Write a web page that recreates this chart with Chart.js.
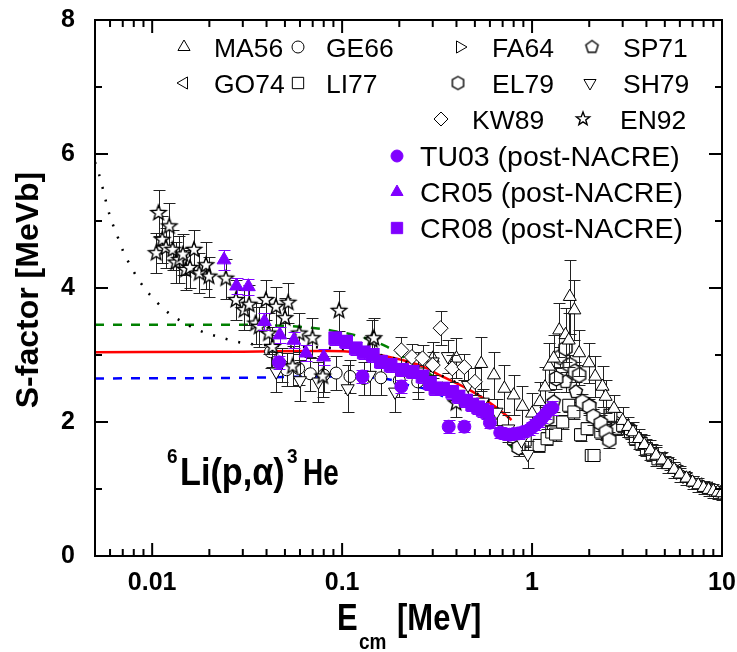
<!DOCTYPE html>
<html>
<head>
<meta charset="utf-8">
<script src="https://cdn.jsdelivr.net/npm/chart.js@4.4.0/dist/chart.umd.min.js"></script>
<style>
  html, body { margin: 0; padding: 0; background: #fff; }
</style>
</head>
<body>
<canvas id="c" width="737" height="652"></canvas>
<script>
// axis ticks
const xTickValues = [0.01, 0.1, 1, 10];
const xTickLabels = ['0.01', '0.1', '1', '10'];
const yTickValues = [0, 2, 4, 6, 8];

// data: [E (MeV), S (MeVb), error]
const TU03 = [[0.0465, 2.89, 0.1], [0.128, 2.68, 0.1], [0.205, 2.53, 0.1], [0.364, 1.93, 0.1], [0.44, 1.93, 0.08],
  [0.60, 1.99, 0.08], [0.68, 1.84, 0.08], [0.72, 1.82, 0.08], [0.76, 1.81, 0.08], [0.80, 1.82, 0.08],
  [0.85, 1.83, 0.08], [0.90, 1.85, 0.08], [0.96, 1.88, 0.08], [1.0, 1.92, 0.08], [1.04, 1.96, 0.08],
  [1.09, 2.01, 0.08], [1.13, 2.06, 0.08], [1.18, 2.12, 0.08], [1.23, 2.18, 0.08], [1.28, 2.21, 0.1]];
const CR05 = [[0.0239, 4.42, 0.15], [0.0278, 4.03, 0.12], [0.0321, 4.02, 0.12], [0.039, 3.50, 0.12],
  [0.047, 3.30, 0.12], [0.0557, 3.22, 0.12], [0.0645, 3.03, 0.12], [0.080, 2.97, 0.12]];
const CR08 = [[0.092, 3.25, 0.1], [0.105, 3.2, 0.1], [0.118, 3.1, 0.1], [0.13, 3.04, 0.1], [0.145, 3.0, 0.1],
  [0.16, 2.9, 0.1], [0.18, 2.85, 0.1], [0.207, 2.78, 0.1], [0.235, 2.75, 0.1], [0.265, 2.68, 0.1],
  [0.29, 2.58, 0.1], [0.31, 2.5, 0.1], [0.34, 2.5, 0.1], [0.38, 2.45, 0.1], [0.41, 2.38, 0.1],
  [0.45, 2.32, 0.1], [0.484, 2.26, 0.1], [0.52, 2.22, 0.1], [0.55, 2.18, 0.1], [0.58, 2.15, 0.1]];
const EN92 = [[0.0108, 5.12, 0.35], [0.0105, 4.52, 0.3], [0.0113, 4.72, 0.35], [0.0118, 4.6, 0.3], [0.0123, 4.92, 0.35],
  [0.0128, 4.57, 0.3], [0.0133, 4.38, 0.3], [0.0139, 4.42, 0.35], [0.0145, 4.5, 0.3], [0.015, 4.27, 0.3],
  [0.0158, 4.3, 0.3], [0.0166, 4.57, 0.3], [0.0177, 4.22, 0.3], [0.0192, 4.34, 0.35], [0.0199, 4.17, 0.3],
  [0.0244, 4.14, 0.3], [0.0276, 3.82, 0.3], [0.0305, 3.67, 0.3], [0.0324, 3.75, 0.3], [0.035, 3.47, 0.3],
  [0.0366, 3.42, 0.3], [0.0397, 3.82, 0.3], [0.041, 3.32, 0.3], [0.043, 3.12, 0.3], [0.0448, 3.72, 0.3],
  [0.05, 3.55, 0.3], [0.052, 3.78, 0.3], [0.0548, 2.83, 0.3], [0.0595, 3.32, 0.3], [0.0698, 3.25, 0.3],
  [0.079, 2.68, 0.3], [0.0963, 3.66, 0.3], [0.144, 3.22, 0.3], [0.147, 3.25, 0.3], [0.398, 2.28, 0.2]];
const KW89 = [[0.205, 3.07, 0.2], [0.233, 2.97, 0.2], [0.265, 2.95, 0.2], [0.30, 2.85, 0.2], [0.33, 3.40, 0.25],
  [0.38, 2.80, 0.2], [0.44, 2.82, 0.2], [0.50, 2.6, 0.2]];
const SH79 = [[0.045, 2.75, 0.3], [0.06, 2.62, 0.3], [0.075, 2.6, 0.3], [0.107, 2.5, 0.35], [0.14, 2.7, 0.3],
  [0.19, 2.45, 0.3], [0.25, 2.75, 0.3], [0.3, 2.9, 0.3], [0.36, 2.98, 0.25], [0.46, 2.55, 0.25],
  [0.55, 2.3, 0.2], [0.65, 2.15, 0.2], [0.75, 1.9, 0.2], [0.88, 1.72, 0.2], [0.95, 1.52, 0.2]];
const GE66 = [[0.042, 3.05, 0.25], [0.048, 2.85, 0.25], [0.051, 2.78, 0.25], [0.059, 2.80, 0.25], [0.068, 2.72, 0.25],
  [0.08, 2.70, 0.25], [0.093, 2.73, 0.25], [0.11, 2.68, 0.25], [0.13, 2.65, 0.25], [0.16, 2.66, 0.25],
  [0.2, 2.62, 0.25], [0.25, 2.6, 0.25]];
const MA56 = [[0.3, 2.95, 0.25], [0.4, 2.95, 0.3], [0.54, 2.87, 0.4], [0.63, 2.70, 0.35], [0.715, 2.50, 0.35],
  [0.80, 2.40, 0.3], [0.89, 2.23, 0.3], [1.0, 2.13, 0.3], [1.1, 2.3, 0.3], [1.17, 2.52, 0.3],
  [1.23, 2.83, 0.35], [1.3, 2.95, 0.35], [1.39, 3.37, 0.4], [1.5, 3.3, 0.4], [1.56, 3.22, 0.4],
  [1.58, 3.87, 0.55], [1.67, 3.67, 0.45], [1.77, 3.03, 0.35], [1.99, 2.88, 0.3], [2.15, 2.68, 0.3],
  [2.35, 2.53, 0.3], [2.44, 2.38, 0.25], [2.7, 2.2, 0.2], [3.0, 2.02, 0.2], [3.2, 1.93, 0.15], [3.4, 1.85, 0.15],
  [3.65, 1.75, 0.15], [3.9, 1.66, 0.15], [4.2, 1.58, 0.15], [4.5, 1.5, 0.15], [4.85, 1.43, 0.12], [5.2, 1.36, 0.12],
  [5.6, 1.29, 0.12], [6.0, 1.22, 0.12], [6.5, 1.16, 0.1], [7.0, 1.1, 0.1], [7.5, 1.06, 0.1],
  [8.0, 1.02, 0.1], [8.5, 0.99, 0.1], [9.0, 0.97, 0.1], [9.5, 0.95, 0.1], [10, 0.94, 0.1]];
const EL79 = [[0.85, 1.62, 0.12], [1.2, 2.05, 0.15], [1.34, 2.65, 0.15], [1.4, 2.97, 0.15], [1.5, 3.1, 0.15],
  [1.58, 2.85, 0.15], [1.68, 2.75, 0.15], [1.77, 2.70, 0.15], [1.84, 2.30, 0.12], [2.0, 2.23, 0.12],
  [2.1, 2.08, 0.12], [2.3, 1.98, 0.12], [2.45, 1.85, 0.12], [2.55, 1.73, 0.12]];
const LI77 = [[0.8, 1.75, 0.1], [0.92, 1.73, 0.1], [1.09, 1.65, 0.1], [1.2, 1.75, 0.1], [1.27, 1.85, 0.1],
  [1.33, 1.82, 0.1], [1.45, 2.0, 0.1], [1.56, 2.25, 0.1], [1.66, 2.15, 0.1], [1.8, 1.81, 0.1],
  [1.95, 1.9, 0.1], [2.05, 1.5, 0.05], [2.12, 1.5, 0.05], [2.3, 1.85, 0.1], [2.6, 2.1, 0.1],
  [3.0, 1.95, 0.1], [3.3, 1.85, 0.1], [3.5, 1.75, 0.1], [3.75, 1.68, 0.1], [4.0, 1.6, 0.1], [4.3, 1.52, 0.1], [4.6, 1.45, 0.08]];
const SP71 = [[1.3, 2.3, 0.15], [1.5, 2.6, 0.15], [1.7, 2.45, 0.15], [2.0, 2.25, 0.12], [2.4, 1.95, 0.12], [2.8, 1.9, 0.1]];
const FA64 = [[2.5, 2.1, 0.12], [2.75, 2.03, 0.12], [3.0, 1.95, 0.1], [3.25, 1.87, 0.1], [3.5, 1.8, 0.1], [3.75, 1.72, 0.1],
  [4.0, 1.65, 0.1], [4.5, 1.52, 0.1], [5.0, 1.42, 0.08], [5.5, 1.33, 0.08], [6.0, 1.24, 0.08], [6.5, 1.18, 0.08],
  [7.0, 1.12, 0.07], [8.0, 1.04, 0.07], [9.0, 0.98, 0.06], [10.0, 0.93, 0.06]];
const GO74 = [[3.2, 1.88, 0.1], [3.8, 1.7, 0.1], [4.3, 1.57, 0.1], [4.8, 1.46, 0.08], [5.3, 1.37, 0.08],
  [5.8, 1.28, 0.08], [6.5, 1.17, 0.07], [7.5, 1.07, 0.07], [8.5, 1.01, 0.06], [9.5, 0.96, 0.06]];

// curves: [E, S]
const screened = [[0.005, 5.88], [0.00526, 5.69], [0.00548, 5.50], [0.0057, 5.30], [0.00594, 5.11], [0.00626, 4.92],
  [0.00665, 4.73], [0.00706, 4.54], [0.00766, 4.34], [0.00837, 4.15], [0.00927, 3.97], [0.01066, 3.78],
  [0.01229, 3.62], [0.01432, 3.50], [0.01664, 3.40], [0.01955, 3.32], [0.02253, 3.27], [0.02595, 3.22],
  [0.0301, 3.18], [0.05, 3.13], [0.1, 3.09], [0.2, 2.93], [0.44, 2.53], [0.6, 2.3], [0.8, 2.0]];
const bare = [[0.005, 3.04], [0.03, 3.05], [0.085, 3.06], [0.12, 3.04], [0.177, 2.97], [0.265, 2.83],
  [0.336, 2.68], [0.44, 2.52], [0.57, 2.33], [0.76, 2.06], [0.78, 2.03]];
const upper = [[0.005, 3.45], [0.03, 3.45], [0.06, 3.42], [0.09, 3.36], [0.133, 3.25], [0.173, 3.12],
  [0.21, 2.97], [0.32, 2.63], [0.45, 2.3], [0.6, 1.97], [0.79, 1.61]];
const lower = [[0.005, 2.65], [0.03, 2.66], [0.08, 2.68], [0.13, 2.67], [0.18, 2.63], [0.224, 2.55],
  [0.285, 2.48], [0.37, 2.33], [0.5, 2.15]];

const PURPLE = '#8000ff';
const FONT = "'Liberation Sans', Arial, sans-serif";

function shape(kind, r) {
  const s = Math.ceil(2 * r + 4);
  const c = document.createElement('canvas');
  c.width = s; c.height = s;
  const g = c.getContext('2d');
  const cx = s / 2, cy = s / 2;
  g.beginPath();
  const n = kind === 'pentagon' ? 5 : kind === 'hexagon' ? 6 : 10;
  for (let i = 0; i < n; i++) {
    const a = -Math.PI / 2 + i * 2 * Math.PI / n;
    const rr = (kind === 'star' && i % 2) ? r * 0.42 : r;
    const px = cx + rr * Math.cos(a), py = cy + rr * Math.sin(a);
    if (i === 0) g.moveTo(px, py); else g.lineTo(px, py);
  }
  g.closePath();
  g.fillStyle = '#fff';
  g.fill();
  g.lineWidth = 1.4;
  g.strokeStyle = '#000';
  g.stroke();
  return c;
}

const pentagon = shape('pentagon', 7);
const hexagon = shape('hexagon', 7.5);
const star = shape('star', 8);
const pentagonL = shape('pentagon', 6.5);
const hexagonL = shape('hexagon', 6.5);
const starL = shape('star', 7);

function series(label, arr, style, radius, rot, purple) {
  return {
    label,
    data: arr.map(p => ({ x: p[0], y: p[1] })),
    err: arr.map(p => p[2]),
    errColor: purple ? PURPLE : '#222',
    pointStyle: style,
    pointRadius: radius,
    pointRotation: rot || 0,
    pointBackgroundColor: purple ? PURPLE : '#fff',
    pointBorderColor: purple ? PURPLE : '#000',
    pointBorderWidth: 1
  };
}

function curve(label, arr, color, dash, width) {
  return {
    label,
    data: arr.map(p => ({ x: p[0], y: p[1] })),
    showLine: true,
    borderColor: color,
    borderWidth: width,
    borderDash: dash,
    pointRadius: 0,
    cubicInterpolationMode: 'monotone',
    fill: false
  };
}

const datasets = [
  series('TU03', TU03, 'circle', 6.5, 0, true),
  series('CR05', CR05, 'triangle', 8, 0, true),
  series('CR08', CR08, 'rect', 9, 0, true),
  series('EN92', EN92, star, 8),
  series('KW89', KW89, 'rectRot', 7.5),
  series('SH79', SH79, 'triangle', 7.5, 180),
  series('GE66', GE66, 'circle', 6),
  series('MA56', MA56, 'triangle', 7.5),
  series('EL79', EL79, hexagon, 7),
  series('LI77', LI77, 'rect', 8.5),
  series('SP71', SP71, pentagon, 7),
  series('FA64', FA64, 'triangle', 7.5, 90),
  series('GO74', GO74, 'triangle', 7.5, -90),
  curve('screened', screened, '#000', [2, 11], 2.5),
  curve('bare', bare, '#ff0000', [], 2.5),
  curve('upper', upper, '#008000', [9, 9], 2.5),
  curve('lower', lower, '#0000ff', [9, 9], 2.5)
];

// legend rows: [marker, label, markerX, textX, rowY, fontSize, purple, rotation]
const legendItems = [
  ['triangle', 'MA56', 184, 214, 47, 26.5, false, 0],
  ['circle', 'GE66', 298, 326, 47, 26.5, false, 0],
  ['triangle', 'FA64', 460, 492, 47, 26.5, false, 90],
  [pentagonL, 'SP71', 592, 623, 47, 26.5, false, 0],
  ['triangle', 'GO74', 184, 214, 83, 26.5, false, -90],
  ['rect', 'LI77', 298, 326, 83, 26.5, false, 0],
  [hexagonL, 'EL79', 458, 492, 83, 26.5, false, 0],
  ['triangle', 'SH79', 590, 623, 83, 26.5, false, 180],
  ['rectRot', 'KW89', 441, 472, 119, 26.5, false, 0],
  [starL, 'EN92', 583, 620, 119, 26.5, false, 0],
  ['circle', 'TU03 (post-NACRE)', 397, 420, 156, 28.5, true, 0],
  ['triangle', 'CR05 (post-NACRE)', 397, 420, 192, 28.5, true, 0],
  ['rect', 'CR08 (post-NACRE)', 397, 420, 228, 28.5, true, 0]
];
const legendRadius = { circle: 6, triangle: 7, rect: 8, rectRot: 7 };

const errorBars = {
  id: 'errorBars',
  beforeDatasetDraw(chart, args) {
    const ds = chart.data.datasets[args.index];
    if (!ds.err) return;
    const { ctx, chartArea: a } = chart;
    const y = chart.scales.y;
    ctx.save();
    ctx.beginPath();
    ctx.rect(a.left, a.top, a.right - a.left, a.bottom - a.top);
    ctx.clip();
    ctx.strokeStyle = ds.errColor;
    ctx.lineWidth = 1;
    ctx.beginPath();
    args.meta.data.forEach((pt, i) => {
      const v = ds.data[i].y, e = ds.err[i];
      const y1 = Math.round(y.getPixelForValue(v + e)) + 0.5;
      const y2 = Math.round(y.getPixelForValue(v - e)) + 0.5;
      const x = Math.round(pt.x) + 0.5;
      ctx.moveTo(x, y1); ctx.lineTo(x, y2);
      ctx.moveTo(x - 6, y1); ctx.lineTo(x + 6, y1);
      ctx.moveTo(x - 6, y2); ctx.lineTo(x + 6, y2);
    });
    ctx.stroke();
    ctx.restore();
  }
};

const frame = {
  id: 'frame',
  afterDatasetsDraw(chart) {
    const { ctx, chartArea: a, scales: { x, y } } = chart;
    ctx.save();
    ctx.strokeStyle = '#000';
    ctx.lineWidth = 2;
    ctx.strokeRect(a.left, a.top, a.right - a.left, a.bottom - a.top);
    ctx.beginPath();
    for (let v = 0; v <= 8; v++) {
      const len = v % 2 === 0 ? 13 : 7;
      const py = y.getPixelForValue(v);
      ctx.moveTo(a.left, py); ctx.lineTo(a.left + len, py);
      ctx.moveTo(a.right, py); ctx.lineTo(a.right - len, py);
    }
    [0.001, 0.01, 0.1, 1, 10].forEach(d => {
      for (let k = 1; k <= 9; k++) {
        const v = k * d;
        if (v < 0.0049 || v > 10.01) continue;
        const len = k === 1 ? 13 : 7;
        const px = x.getPixelForValue(v);
        ctx.moveTo(px, a.bottom); ctx.lineTo(px, a.bottom - len);
        ctx.moveTo(px, a.top); ctx.lineTo(px, a.top + len);
      }
    });
    ctx.stroke();
    ctx.restore();
  },
  afterDraw(chart) {
    const ctx = chart.ctx;
    ctx.save();
    ctx.fillStyle = '#000';
    // y title
    ctx.save();
    ctx.translate(29, 290);
    ctx.rotate(-Math.PI / 2);
    ctx.font = 'bold 32px ' + FONT;
    ctx.textAlign = 'center';
    ctx.textBaseline = 'middle';
    ctx.fillText('S-factor [MeVb]', 0, 0);
    ctx.restore();
    // x title
    ctx.textAlign = 'left';
    ctx.textBaseline = 'alphabetic';
    const stretched = (txt, px, py, size, sy, sx) => {
      ctx.save();
      ctx.translate(px, py);
      ctx.scale(sx || 1, sy);
      ctx.font = 'bold ' + size + 'px ' + FONT;
      ctx.fillText(txt, 0, 0);
      ctx.restore();
    };
    stretched('E', 337, 630, 31, 1.2);
    stretched('cm', 359, 649, 19, 1.15);
    stretched('[MeV]', 397, 630, 31, 1.2);
    // reaction label
    stretched('6', 167, 463, 19, 1.1);
    stretched('Li(p,\u03b1)', 180, 485, 32, 1.2, 1.07);
    stretched('3', 287, 463, 19, 1.1);
    stretched('He', 303, 485, 31, 1.2, 0.9);
    // legend
    legendItems.forEach(([mk, label, mx, tx, ry, fs, purple, rot]) => {
      ctx.save();
      ctx.fillStyle = purple ? PURPLE : '#fff';
      ctx.strokeStyle = purple ? PURPLE : '#000';
      ctx.lineWidth = 1;
      Chart.helpers.drawPoint(ctx, {
        pointStyle: mk,
        radius: typeof mk === 'string' ? legendRadius[mk] : 6,
        rotation: rot,
        borderWidth: 1
      }, mx, ry);
      ctx.restore();
      ctx.font = fs + 'px ' + FONT;
      ctx.fillStyle = '#000';
      ctx.fillText(label, tx, ry + 10);
    });
    ctx.restore();
  }
};

new Chart(document.getElementById('c'), {
  type: 'scatter',
  data: { datasets },
  options: {
    responsive: false,
    animation: false,
    events: [],
    layout: { padding: { top: 20, right: 15, left: 0, bottom: 0 } },
    plugins: { legend: { display: false }, tooltip: { enabled: false } },
    scales: {
      x: {
        type: 'logarithmic',
        min: 0.005,
        max: 10,
        grid: { display: false },
        border: { display: false },
        afterBuildTicks: s => { s.ticks = xTickValues.map(v => ({ value: v })); },
        afterFit: s => { s.height = 96; s.paddingLeft = 0; s.paddingRight = 0; },
        ticks: {
          autoSkip: false,
          maxRotation: 0,
          padding: 4,
          color: '#000',
          font: { family: FONT, size: 25, weight: 'bold' },
          callback: v => xTickLabels[xTickValues.indexOf(v)]
        }
      },
      y: {
        min: 0,
        max: 8,
        grid: { display: false },
        border: { display: false },
        afterBuildTicks: s => { s.ticks = yTickValues.map(v => ({ value: v })); },
        afterFit: s => { s.width = 95; s.paddingTop = 0; s.paddingBottom = 0; },
        ticks: {
          padding: 12,
          color: '#000',
          font: { family: FONT, size: 25, weight: 'bold' },
          callback: v => String(v)
        }
      }
    }
  },
  plugins: [errorBars, frame]
});
</script>
</body>
</html>
